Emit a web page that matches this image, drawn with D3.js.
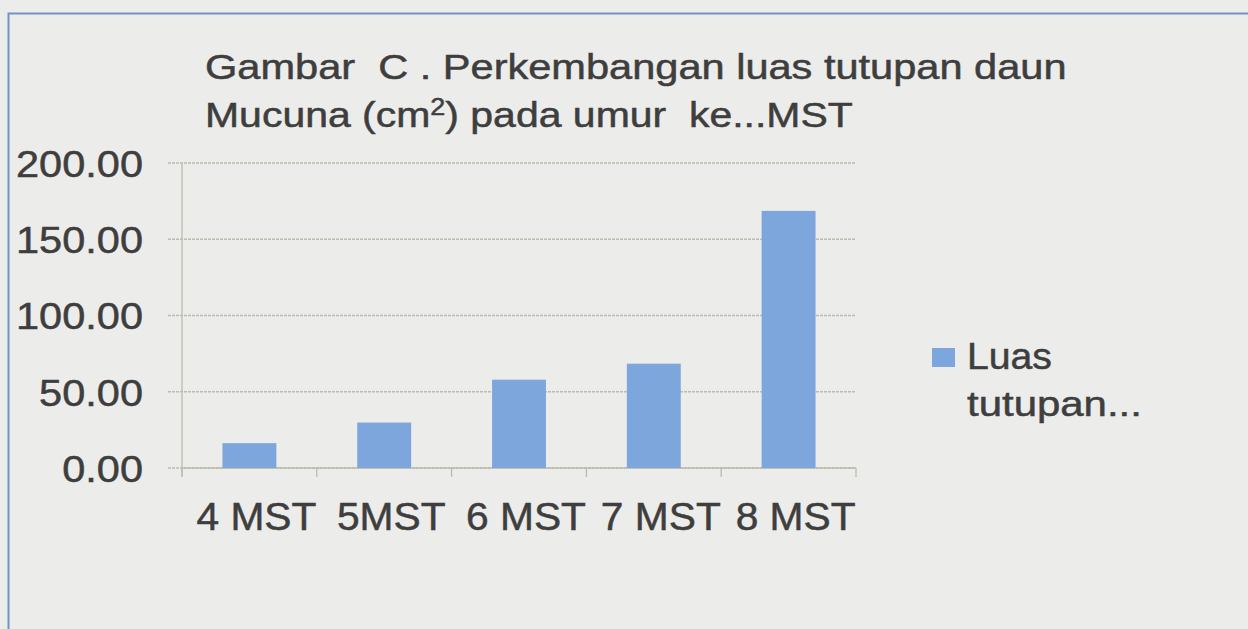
<!DOCTYPE html>
<html>
<head>
<meta charset="utf-8">
<script src="https://cdn.jsdelivr.net/npm/d3@7"></script>
<style>
html,body{margin:0;padding:0;background:#ececea;}
svg{display:block;}
text{font-family:"Liberation Sans",Arial,Helvetica,sans-serif;fill:#3e3e3e;white-space:pre;stroke:#3e3e3e;stroke-width:0.5px;}
</style>
</head>
<body>
<svg id="chart" width="1248" height="629"></svg>
<script>
const categories = ["4 MST", "5MST", "6 MST", "7 MST", "8 MST"];
const values = [16.3, 29.8, 57.9, 68.4, 168.6];
const yTicks = [0, 50, 100, 150, 200];
const seriesName = "Luas tutupan...";
const titleLine1 = "Gambar  C . Perkembangan luas tutupan daun";
const titleLine2 = ["Mucuna (cm", "2", ") pada umur  ke...MST"];

const svg = d3.select("#chart");
const W = 1248, H = 629;
const barColor = "#7da7dc";
const gridColor = "#bcbcae";

// stretch a text node horizontally around its x attribute so it spans targetW
function stretch(node, targetW, fixedX) {
  const w = node.getBBox().width;
  const s = targetW / w;
  const X = fixedX;
  d3.select(node).attr("transform", `translate(${X * (1 - s)},0) scale(${s},1)`);
  return s;
}

svg.append("rect").attr("width", W).attr("height", H).attr("fill", "#ececea");
// outer frame
svg.append("path").attr("d", `M8.5,${H} L8.5,13.5 L${W},13.5`)
  .attr("fill", "none").attr("stroke", "#7094c8").attr("stroke-width", 2);

const plot = {left: 182, right: 856, top: 163, bottom: 468};
const x = d3.scaleBand().domain(categories).range([plot.left, plot.right])
  .paddingInner(0.6).paddingOuter(0.3);
const y = d3.scaleLinear().domain([0, 200]).range([plot.bottom, plot.top]);

// gridlines
svg.append("g").selectAll("line").data(yTicks).join("line")
  .attr("x1", plot.left - 14).attr("x2", plot.right)
  .attr("y1", d => y(d)).attr("y2", d => y(d))
  .attr("stroke", gridColor).attr("stroke-width", 1.3).attr("stroke-dasharray", "3,1");

// y axis line
svg.append("line").attr("x1", plot.left).attr("x2", plot.left)
  .attr("y1", plot.top).attr("y2", plot.bottom + 8)
  .attr("stroke", gridColor).attr("stroke-width", 1.3);

// y labels
const yAxis = d3.axisLeft(y).tickValues(yTicks).tickFormat(d3.format(".2f")).tickSize(0).tickPadding(0);
const gy = svg.append("g").attr("transform", `translate(143,0)`).call(yAxis);
gy.select(".domain").remove();
gy.selectAll("text").style("font-size", "37px").attr("fill", "#3e3e3e").attr("stroke", "#3e3e3e").attr("stroke-width", 0.5)
  .attr("font-family", "Liberation Sans, Arial, sans-serif").attr("dy", "0.36em").attr("x", 0);
const yTexts = gy.selectAll("text").nodes();
const sy = 127 / yTexts[yTexts.length - 1].getBBox().width;
gy.selectAll("text").attr("transform", `scale(${sy},1)`);

// x axis
svg.append("line").attr("x1", plot.left).attr("x2", plot.right)
  .attr("y1", plot.bottom).attr("y2", plot.bottom)
  .attr("stroke", gridColor).attr("stroke-width", 1.3);
const step = x.step();
const bounds = d3.range(categories.length + 1).map(i => plot.left + i * step);
svg.append("g").selectAll("line").data(bounds).join("line")
  .attr("x1", d => d).attr("x2", d => d)
  .attr("y1", plot.bottom).attr("y2", plot.bottom + 9)
  .attr("stroke", gridColor).attr("stroke-width", 1.3);

const xAxis = d3.axisBottom(x).tickSize(0).tickPadding(0);
const gx = svg.append("g").attr("transform", `translate(0,${plot.bottom + 35})`).call(xAxis);
gx.select(".domain").remove();
gx.selectAll("text").style("font-size", "38px").attr("fill", "#3e3e3e").attr("stroke", "#3e3e3e").attr("stroke-width", 0.5)
  .attr("font-family", "Liberation Sans, Arial, sans-serif").attr("dy", "0.71em").attr("x", 0);
const sx = 120 / gx.select("text").node().getBBox().width;
gx.selectAll("text").attr("transform", `translate(7,0) scale(${sx},1)`);

// bars
svg.append("g").selectAll("rect").data(values).join("rect")
  .attr("x", (d, i) => x(categories[i]))
  .attr("width", x.bandwidth())
  .attr("y", d => y(d))
  .attr("height", d => y(0) - y(d))
  .attr("fill", barColor);

// title
const t1 = svg.append("text").attr("x", 205).attr("y", 79).style("font-size", "35px").text(titleLine1);
stretch(t1.node(), 862, 205);
const t2 = svg.append("text").attr("x", 205).attr("y", 127).style("font-size", "35px");
t2.append("tspan").text(titleLine2[0]);
t2.append("tspan").attr("dy", -12).style("font-size", "23px").text(titleLine2[1]);
t2.append("tspan").attr("dy", 12).text(titleLine2[2]);
stretch(t2.node(), 648, 205);

// legend
svg.append("rect").attr("x", 932).attr("y", 348).attr("width", 23).attr("height", 19).attr("fill", barColor);
const words = seriesName.split(" ");
const l1 = svg.append("text").attr("x", 967).attr("y", 369).style("font-size", "36px").text(words[0]);
stretch(l1.node(), 85, 967);
const l2 = svg.append("text").attr("x", 967).attr("y", 416).style("font-size", "36px").text(words[1]);
stretch(l2.node(), 175, 967);
</script>
</body>
</html>
